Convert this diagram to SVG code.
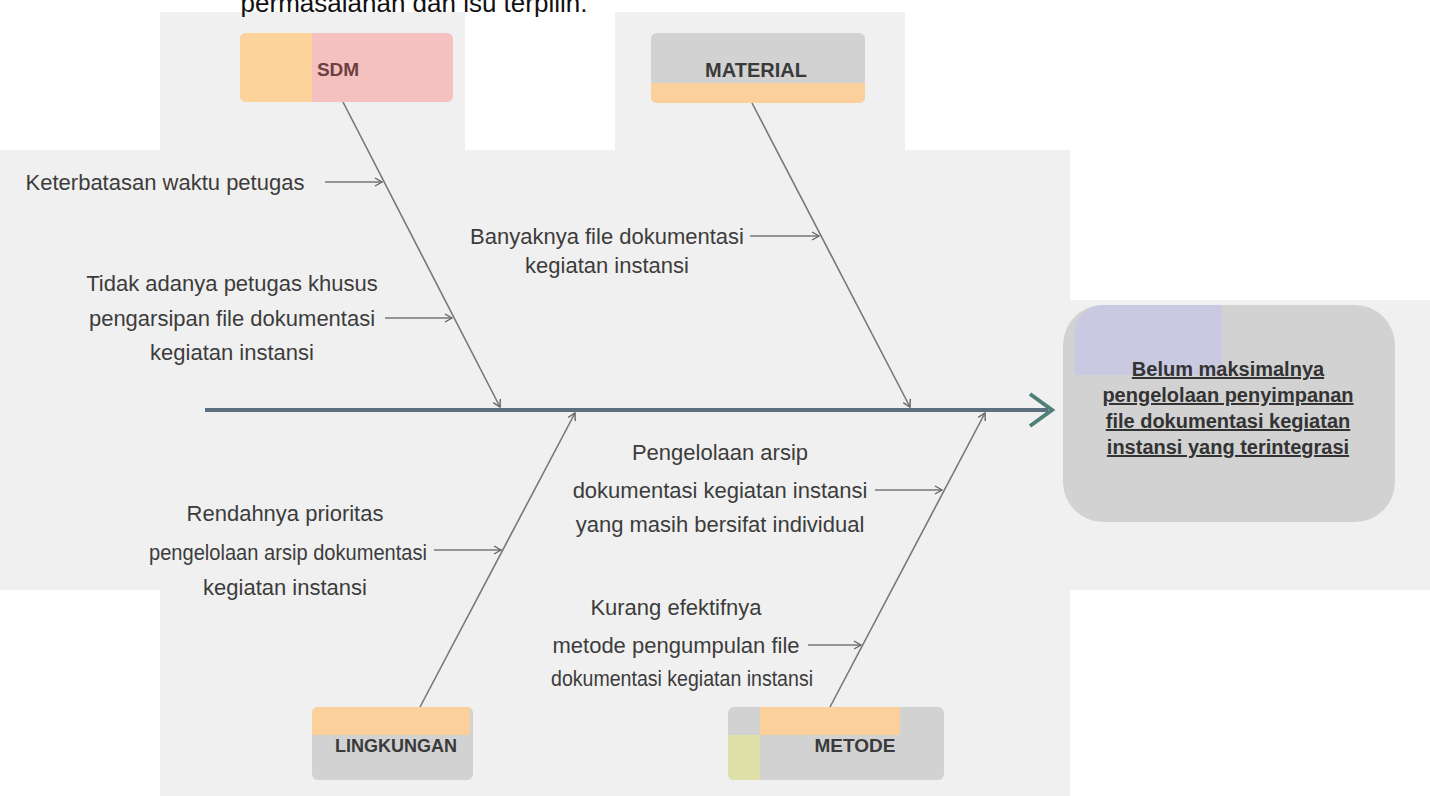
<svg xmlns="http://www.w3.org/2000/svg" width="1430" height="796" viewBox="0 0 1430 796">
<style>
.lbl{font-family:"Liberation Sans",Arial,sans-serif;font-size:22px;fill:#3c3c3c;text-anchor:middle}
.cat{font-family:"Liberation Sans",Arial,sans-serif;font-size:18px;font-weight:bold;fill:#3a3a3a;text-anchor:middle}
.eff{font-family:"Liberation Sans",Arial,sans-serif;font-size:20px;font-weight:bold;fill:#333;text-anchor:middle;text-decoration:underline}
.sub{stroke:#777;stroke-width:1.6;fill:none;marker-end:url(#ah)}
.panel{fill:#f0f0f0}
</style>
<defs>
<marker id="ah" markerWidth="10" markerHeight="10" refX="8" refY="5" orient="auto" markerUnits="userSpaceOnUse">
<path d="M1,1 L8,5 L1,9" fill="none" stroke="#666" stroke-width="1.4"/>
</marker>
</defs>
<rect width="1430" height="796" fill="#ffffff"/>
<g id="background">
<rect class="panel" x="160" y="12" width="305" height="140"/>
<rect class="panel" x="615" y="12" width="290" height="140"/>
<rect class="panel" x="0" y="150" width="1070" height="440"/>
<rect class="panel" x="1060" y="300" width="370" height="290"/>
<rect class="panel" x="160" y="590" width="910" height="206"/>
</g>
<text x="414" y="12" style="font-family:'Liberation Sans',Arial,sans-serif;font-size:26px;fill:#111;text-anchor:middle">permasalahan dan isu terpilih.</text>

<g id="connectors">
<line x1="205" y1="410" x2="1048" y2="410" stroke="#5b6f80" stroke-width="4"/>
<path d="M1030,394 L1052,410 L1030,426" fill="none" stroke="#4f7f78" stroke-width="4"/>
<line class="sub" x1="343" y1="102" x2="500" y2="407"/>
<line class="sub" x1="752" y1="103" x2="910" y2="407"/>
<line class="sub" x1="420" y1="707" x2="575" y2="413"/>
<line class="sub" x1="830" y1="707" x2="985" y2="413"/>
<line class="sub" x1="325" y1="182" x2="382" y2="182"/>
<line class="sub" x1="385" y1="318" x2="452" y2="318"/>
<line class="sub" x1="750" y1="236" x2="819" y2="236"/>
<line class="sub" x1="875" y1="490" x2="942" y2="490"/>
<line class="sub" x1="434" y1="550" x2="501" y2="550"/>
<line class="sub" x1="808" y1="645" x2="861" y2="645"/>
</g>

<g id="node-sdm">
<rect x="240" y="33" width="213" height="69" rx="6" fill="#f5c0c0"/>
<path d="M246,33 H312 V102 H246 A6,6 0 0 1 240,96 V39 A6,6 0 0 1 246,33 Z" fill="#fcd39a"/>
<text class="cat" x="338" y="76" style="fill:#6e4040;font-size:19px">SDM</text>
</g>
<g id="node-material">
<rect x="651" y="33" width="214" height="70" rx="6" fill="#d2d2d2"/>
<path d="M651,83 H865 V97 A6,6 0 0 1 859,103 H657 A6,6 0 0 1 651,97 Z" fill="#fcd09a"/>
<text class="cat" x="756" y="77" style="font-size:20px">MATERIAL</text>
</g>
<g id="node-lingkungan">
<rect x="312" y="707" width="161" height="73" rx="6" fill="#d2d2d2"/>
<path d="M318,707 H470 V735 H312 V713 A6,6 0 0 1 318,707 Z" fill="#fcd09a"/>
<text class="cat" x="396" y="752">LINGKUNGAN</text>
</g>
<g id="node-metode">
<rect x="728" y="707" width="216" height="73" rx="6" fill="#d2d2d2"/>
<rect x="760" y="707" width="140" height="28" fill="#fcd09a"/>
<path d="M728,735 H760 V780 H734 A6,6 0 0 1 728,774 Z" fill="#dfe0a8"/>
<text class="cat" x="855" y="752" style="font-size:19px">METODE</text>
</g>
<g id="node-effect">
<rect x="1063" y="305" width="332" height="217" rx="40" fill="#d2d2d2"/>
<path d="M1103,305 H1222 V375 H1075 V333 A28,28 0 0 1 1103,305 Z" fill="#c9c9e2"/>
<text class="eff" x="1228" y="376">Belum maksimalnya</text>
<text class="eff" x="1228" y="402">pengelolaan penyimpanan</text>
<text class="eff" x="1228" y="428">file dokumentasi kegiatan</text>
<text class="eff" x="1228" y="454">instansi yang terintegrasi</text>
</g>

<g id="cause-1">
<text class="lbl" x="165" y="190">Keterbatasan waktu petugas</text>
</g>
<g id="cause-2">
<text class="lbl" x="232" y="291">Tidak adanya petugas khusus</text>
<text class="lbl" x="232" y="326">pengarsipan file dokumentasi</text>
<text class="lbl" x="232" y="360">kegiatan instansi</text>
</g>
<g id="cause-3">
<text class="lbl" x="607" y="244">Banyaknya file dokumentasi</text>
<text class="lbl" x="607" y="273">kegiatan instansi</text>
</g>
<g id="cause-4">
<text class="lbl" x="720" y="460">Pengelolaan arsip</text>
<text class="lbl" x="720" y="498">dokumentasi kegiatan instansi</text>
<text class="lbl" x="720" y="532">yang masih bersifat individual</text>
</g>
<g id="cause-5">
<text class="lbl" x="285" y="521">Rendahnya prioritas</text>
<text class="lbl" x="288" y="560" textLength="278" lengthAdjust="spacingAndGlyphs">pengelolaan arsip dokumentasi</text>
<text class="lbl" x="285" y="595">kegiatan instansi</text>
</g>
<g id="cause-6">
<text class="lbl" x="676" y="615">Kurang efektifnya</text>
<text class="lbl" x="676" y="653">metode pengumpulan file</text>
<text class="lbl" x="682" y="686" textLength="262" lengthAdjust="spacingAndGlyphs">dokumentasi kegiatan instansi</text>
</g>
</svg>
